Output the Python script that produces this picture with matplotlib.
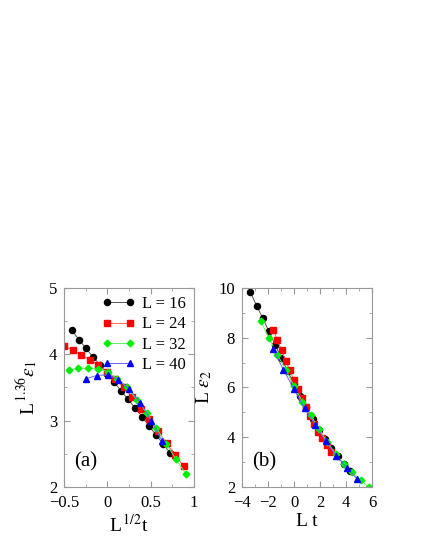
import matplotlib
matplotlib.use("Agg")
import matplotlib.pyplot as plt
from matplotlib.ticker import MultipleLocator

plt.rcParams['font.family'] = ['Liberation Serif', 'DejaVu Serif']
plt.rcParams['mathtext.fontset'] = 'stix'

# ---- Panel (a) data: L^{1/2} t vs L^{1.36} eps_1 ----
a16_x = [-0.408, -0.327, -0.246, -0.166, -0.085, -0.004, 0.077, 0.158, 0.239, 0.320, 0.401, 0.482, 0.563, 0.644, 0.725]
a16_y = [4.36, 4.22, 4.09, 3.96, 3.84, 3.71, 3.58, 3.45, 3.32, 3.19, 3.06, 2.92, 2.78, 2.65, 2.51]
a24_x = [-0.500, -0.401, -0.303, -0.204, -0.106, -0.007, 0.092, 0.190, 0.289, 0.387, 0.486, 0.585, 0.683, 0.782, 0.880]
a24_y = [4.13, 4.06, 3.99, 3.92, 3.84, 3.74, 3.63, 3.50, 3.35, 3.18, 3.02, 2.84, 2.66, 2.48, 2.31]
a32_x = [-0.446, -0.334, -0.221, -0.109, 0.004, 0.116, 0.229, 0.341, 0.454, 0.566, 0.679, 0.791, 0.904]
a32_y = [3.76, 3.79, 3.79, 3.78, 3.74, 3.63, 3.50, 3.31, 3.12, 2.89, 2.65, 2.42, 2.20]
a40_x = [-0.250, -0.124, 0.002, 0.128, 0.254, 0.380, 0.506, 0.632]
a40_y = [3.63, 3.68, 3.69, 3.62, 3.47, 3.27, 3.00, 2.69]

# ---- Panel (b) data: L t vs L eps_2 ----
b16_x = [-3.36, -2.88, -2.40, -1.92, -1.44, -0.97, -0.49, -0.01, 0.47, 0.95, 1.43, 1.91, 2.39, 2.87, 3.35, 3.83, 4.30]
b16_y = [9.83, 9.29, 8.78, 8.25, 7.70, 7.18, 6.65, 6.15, 5.66, 5.20, 4.72, 4.31, 3.94, 3.55, 3.24, 2.93, 2.66]
b24_x = [-1.59, -1.28, -0.96, -0.65, -0.33, -0.02, 0.30, 0.61, 0.93, 1.24, 1.56, 1.87, 2.19, 2.50, 2.82]
b24_y = [8.31, 7.90, 7.50, 7.08, 6.69, 6.30, 5.93, 5.57, 5.20, 4.87, 4.53, 4.20, 3.95, 3.68, 3.42]
b32_x = [-2.56, -1.92, -1.28, -0.64, 0.00, 0.64, 1.28, 1.92, 2.56, 3.20, 3.84, 4.48, 5.12, 5.76]
b32_y = [8.67, 7.98, 7.32, 6.71, 6.06, 5.43, 4.88, 4.33, 3.80, 3.33, 2.93, 2.59, 2.27, 2.00]
b40_x = [-1.62, -0.81, 0.00, 0.81, 1.62, 2.43, 3.24, 4.05, 4.86]
b40_y = [7.54, 6.71, 5.93, 5.16, 4.51, 3.84, 3.26, 2.77, 2.32]

labels = ['L = 16', 'L = 24', 'L = 32', 'L = 40']
colors = ['#000000', '#ff0000', '#00ee00', '#0000ff']
line_colors = ['#555555', '#ff6666', '#66ee66', '#6666ff']
markers = ['o', 's', 'D', '^']
msizes = [4.4, 3.8, 3.4, 4.4]

fig = plt.figure(figsize=(4.25, 5.5), dpi=100)
axa = fig.add_axes([0.1506, 0.1145, 0.306, 0.362])
axb = fig.add_axes([0.5694, 0.1145, 0.306, 0.362])

series_a = [(a16_x, a16_y), (a24_x, a24_y), (a32_x, a32_y), (a40_x, a40_y)]
series_b = [(b16_x, b16_y), (b24_x, b24_y), (b32_x, b32_y), (b40_x, b40_y)]

for (x, y), c, lc, m, ms, lab in zip(series_a, colors, line_colors, markers, msizes, labels):
    axa.plot(x, y, color=lc, lw=0.7, marker=m, ms=ms, mfc=c, mec=c, label=lab)
for (x, y), c, lc, m, ms in zip(series_b, colors, line_colors, markers, msizes):
    axb.plot(x, y, color=lc, lw=0.7, marker=m, ms=ms, mfc=c, mec=c)

for ax in (axa, axb):
    for s in ax.spines.values():
        s.set_color('#999999')
        s.set_linewidth(0.8)
    ax.tick_params(which='both', direction='in', top=True, right=True,
                   color='#999999', labelsize=12)
    ax.tick_params(axis='x', which='major', pad=6)
    ax.tick_params(axis='y', which='major', pad=5)
    ax.tick_params(which='major', length=4)
    ax.tick_params(which='minor', length=2.5)

axa.set_xlim(-0.5, 1)
axa.set_ylim(2, 5)
axa.set_xticks([-0.5, 0, 0.5, 1])
axa.set_xticklabels(['\u22120.5', '0', '0.5', '1'])
axa.set_yticks([2, 3, 4, 5])
axa.xaxis.set_minor_locator(MultipleLocator(0.25))
axa.yaxis.set_minor_locator(MultipleLocator(0.5))
axa.set_xlabel(r'L$^{\,1/2}$t', fontsize=14, labelpad=1.5)
axa.set_ylabel(r'L$^{\,1.36}\varepsilon_1$', fontsize=14, labelpad=6)
axa.text(0.08, 0.125, '(a)', transform=axa.transAxes, fontsize=15, ha='left', va='center')
axa.legend(loc='upper right', frameon=False, fontsize=12, numpoints=2,
           handlelength=2.0, handletextpad=0.4, labelspacing=0.25,
           borderaxespad=0.2, borderpad=0.3)

axb.set_xlim(-4, 6)
axb.set_ylim(2, 10)
axb.set_xticks([-4, -2, 0, 2, 4, 6])
axb.set_xticklabels(['\u22124', '\u22122', '0', '2', '4', '6'])
axb.set_yticks([2, 4, 6, 8, 10])
axb.xaxis.set_minor_locator(MultipleLocator(1))
axb.yaxis.set_minor_locator(MultipleLocator(1))
axb.set_xlabel(r'L t', fontsize=14, labelpad=1.5)
axb.set_ylabel(r'L $\varepsilon_2$', fontsize=14, labelpad=3)
axb.text(0.077, 0.125, '(b)', transform=axb.transAxes, fontsize=15, ha='left', va='center')

fig.savefig('out.png', dpi=100)
